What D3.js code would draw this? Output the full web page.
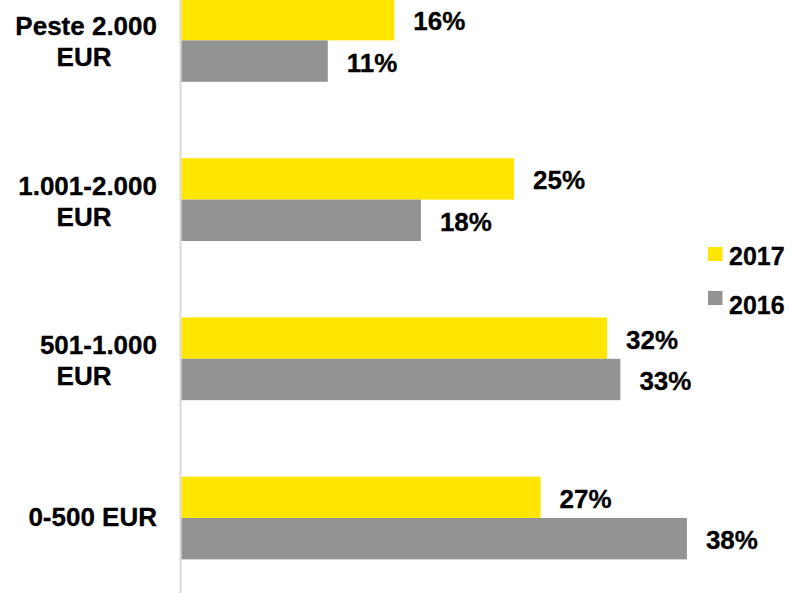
<!DOCTYPE html>
<html>
<head>
<meta charset="utf-8">
<script src="https://cdn.jsdelivr.net/npm/d3@7"></script>
<style>
  html, body { margin: 0; padding: 0; background: #ffffff; }
  svg { display: block; }
  text { font-family: Arial, "Liberation Sans", sans-serif; font-weight: bold; fill: #000; }
</style>
</head>
<body>
<svg id="chart" width="792" height="593"></svg>
<script>
// ---- data ----
const categories = ["Peste 2.000 EUR", "1.001-2.000 EUR", "501-1.000 EUR", "0-500 EUR"];
const categoryLines = [["Peste 2.000", "EUR"], ["1.001-2.000", "EUR"], ["501-1.000", "EUR"], ["0-500 EUR"]];
const seriesNames = ["2017", "2016"];
const values2017 = [0.16, 0.25, 0.32, 0.27];
const values2016 = [0.11, 0.18, 0.33, 0.38];
const seriesColors = ["#FFE600", "#939393"];

const svg = d3.select("#chart");
const W = 792, H = 593;

const x = d3.scaleLinear().domain([0, 1]).range([181.5, 181.5 + 1330]);
const y = d3.scaleBand().domain(categories).range([-77.4, 635.8]).paddingInner(0.48).paddingOuter(0.48);
const ySub = d3.scaleBand().domain(seriesNames).range([0, y.bandwidth()]);

const series = [values2017, values2016];
const fmt = d3.format(".0%");

// axis line
svg.append("line")
  .attr("x1", 180.5).attr("x2", 180.5)
  .attr("y1", 0).attr("y2", H)
  .attr("stroke", "#d9d9d9").attr("stroke-width", 2);

// bars
seriesNames.forEach((s, si) => {
  const g = svg.append("g");
  g.selectAll("rect").data(categories).enter().append("rect")
    .attr("x", x(0))
    .attr("y", c => y(c) + ySub(s))
    .attr("width", (c, i) => x(series[si][i]) - x(0))
    .attr("height", ySub.bandwidth())
    .attr("fill", seriesColors[si]);
  g.selectAll("text").data(categories).enter().append("text")
    .attr("x", (c, i) => x(series[si][i]) + 19)
    .attr("y", c => y(c) + ySub(s) + ySub.bandwidth() / 2 + 10.5)
    .attr("font-size", 26)
    .attr("stroke", "#000").attr("stroke-width", 0.3)
    .text((c, i) => fmt(series[si][i]));
});

// category labels
categories.forEach((c, i) => {
  const cy = y(c) + y.bandwidth() / 2;
  const lines = categoryLines[i];
  if (lines.length === 1) {
    svg.append("text").attr("x", 157).attr("y", cy + 8.5)
      .attr("text-anchor", "end").attr("font-size", 26)
      .attr("stroke", "#000").attr("stroke-width", 0.3).text(lines[0]);
  } else {
    svg.append("text").attr("x", 157).attr("y", cy - 5)
      .attr("text-anchor", "end").attr("font-size", 26)
      .attr("stroke", "#000").attr("stroke-width", 0.3).text(lines[0]);
    svg.append("text").attr("x", 84).attr("y", cy + 26)
      .attr("text-anchor", "middle").attr("font-size", 26)
      .attr("stroke", "#000").attr("stroke-width", 0.3).text(lines[1]);
  }
});

// legend
const legend = svg.append("g");
seriesNames.forEach((s, si) => {
  legend.append("rect").attr("x", 708).attr("y", 247 + si * 44)
    .attr("width", 14.5).attr("height", 14).attr("fill", seriesColors[si]);
  legend.append("text").attr("x", 729).attr("y", 265 + si * 49)
    .attr("font-size", 25).attr("stroke", "#000").attr("stroke-width", 0.3).text(s);
});
</script>
</body>
</html>
